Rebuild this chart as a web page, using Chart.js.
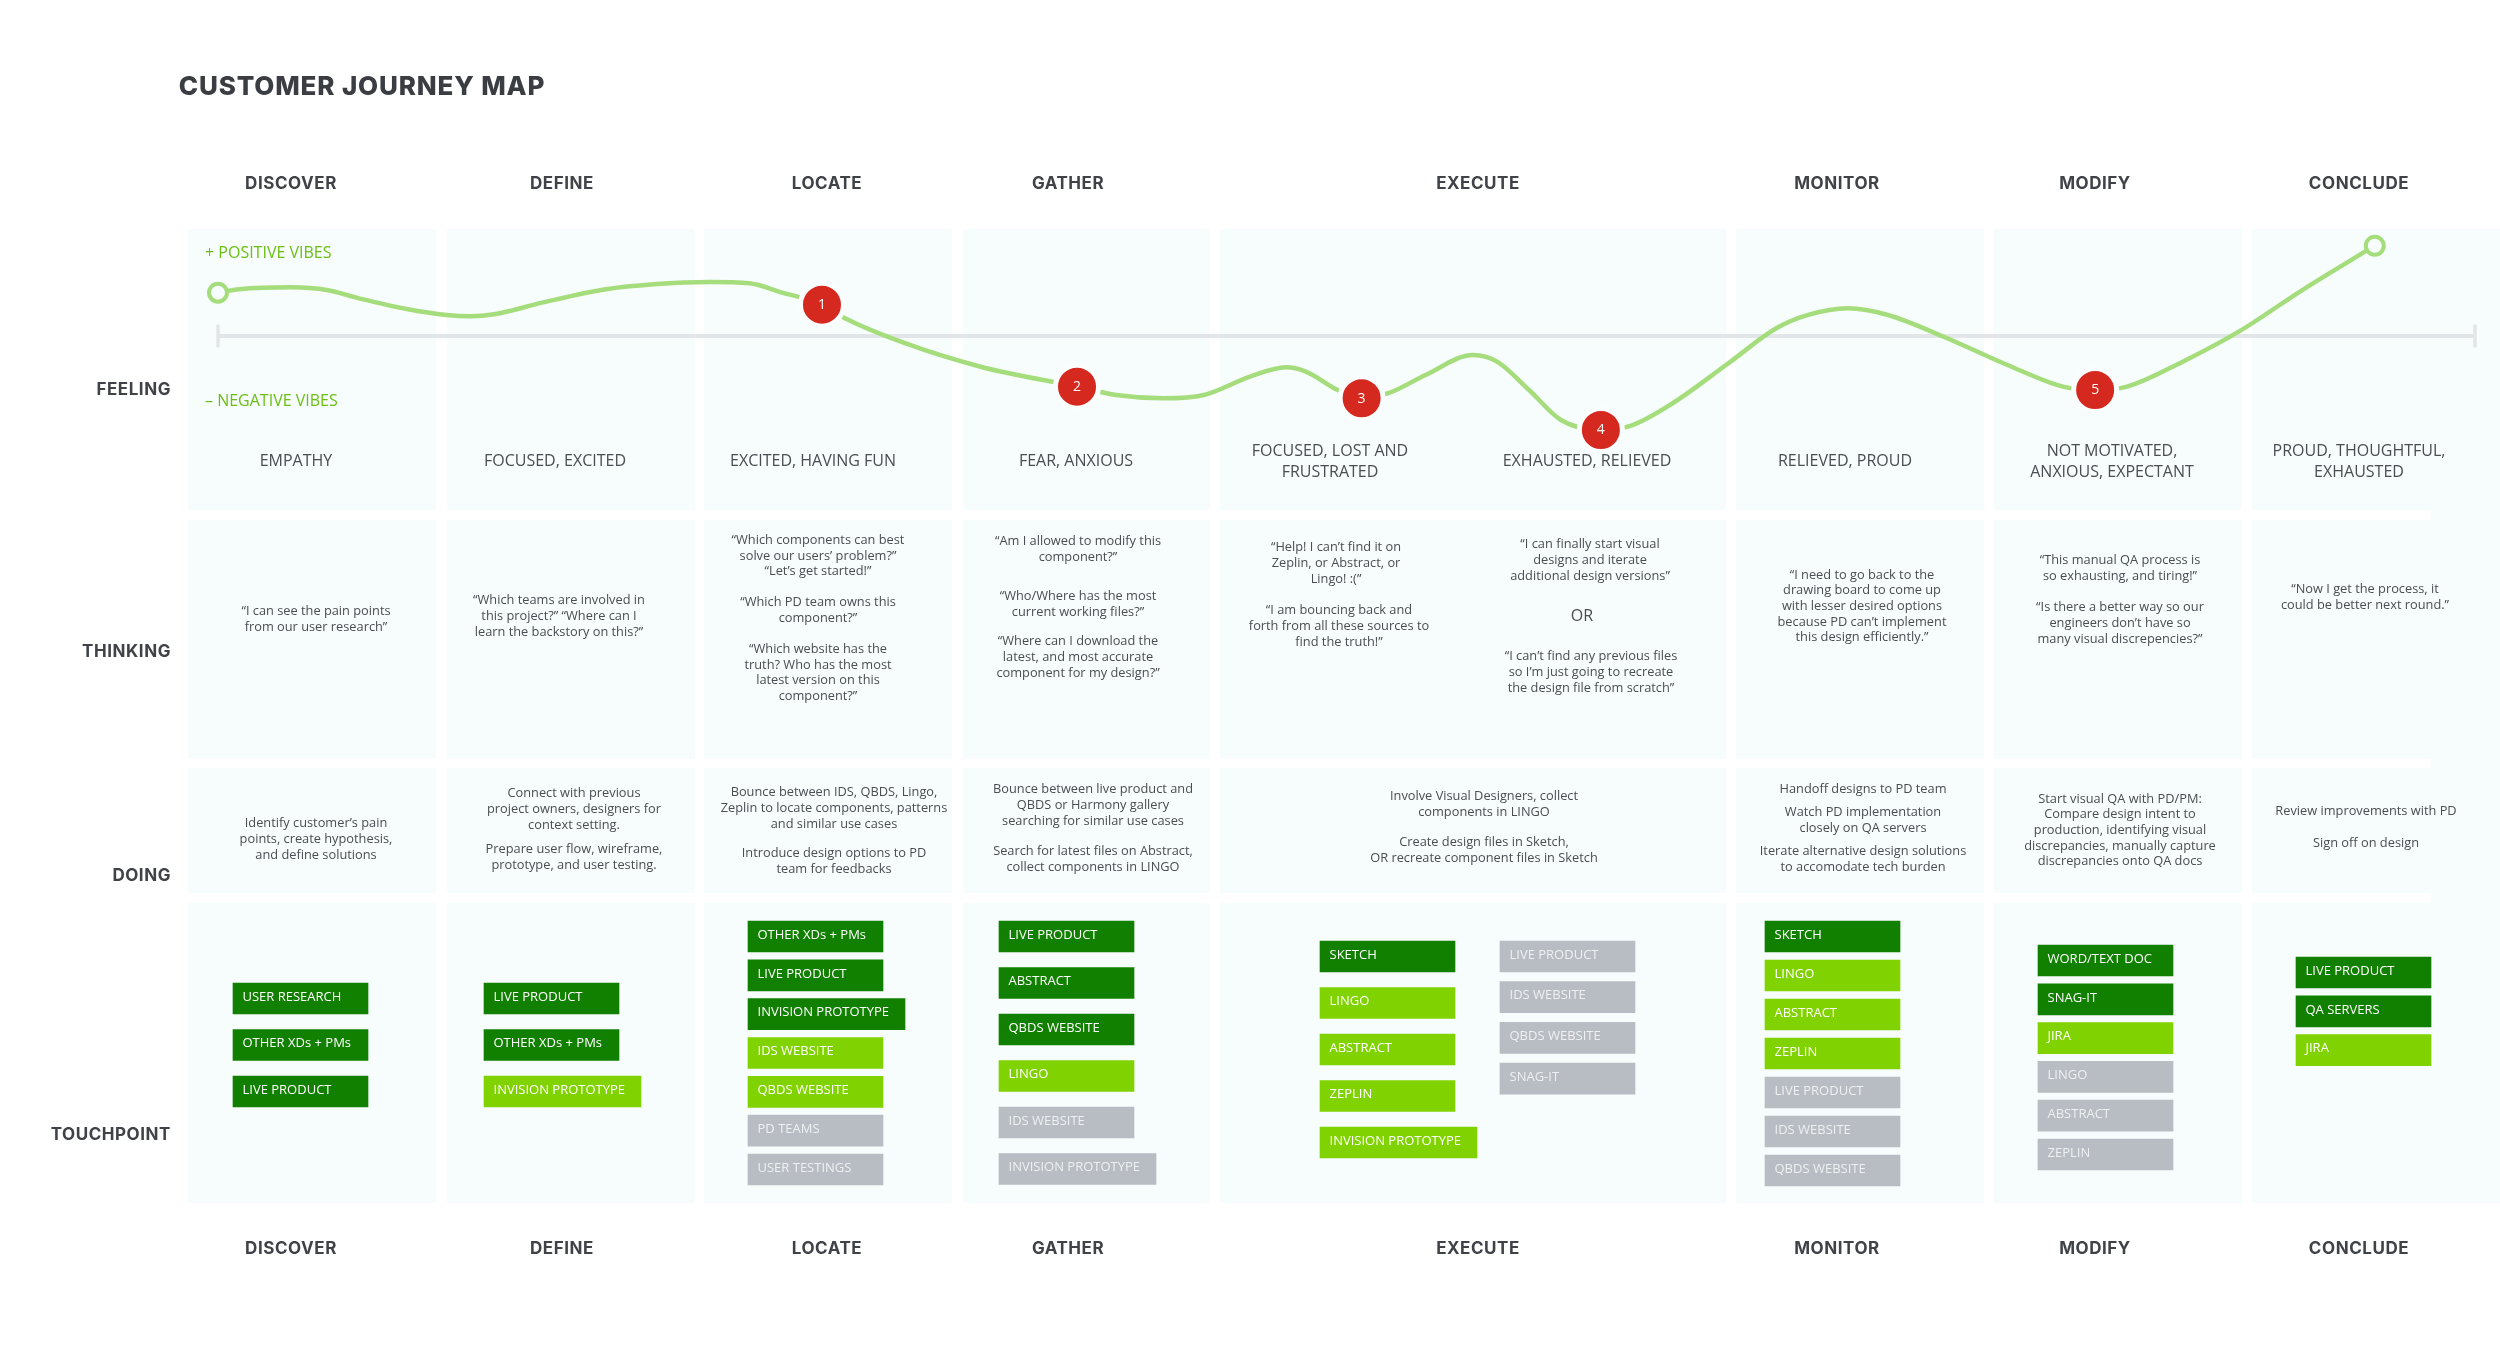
<!DOCTYPE html>
<html><head><meta charset="utf-8">
<script src="https://cdn.jsdelivr.net/npm/chart.js@4"></script>
<style>
html,body{margin:0;padding:0;background:#fff;width:2500px;height:1353px;overflow:hidden}
#stage{position:relative;width:2500px;height:1353px}
#stage div{position:absolute}
.t{white-space:pre;transform:translate(-50%,-50%);text-align:center;color:#4a4d52;font-family:"Open Sans",sans-serif}
canvas{position:absolute;left:0;top:0}
</style></head><body>
<div id="stage"><canvas id="c" width="2500" height="1353"></canvas></div>
<script>
/* ---------- DATA ---------- */
const title = "CUSTOMER JOURNEY MAP";
const stages = ["DISCOVER","DEFINE","LOCATE","GATHER","EXECUTE","MONITOR","MODIFY","CONCLUDE"];
const rowLabels = ["FEELING","THINKING","DOING","TOUCHPOINT"];
const vibeLabels = ["+ POSITIVE VIBES","– NEGATIVE VIBES"];
const feelingLabels = ["EMPATHY","FOCUSED, EXCITED","EXCITED, HAVING FUN","FEAR, ANXIOUS","FOCUSED, LOST AND\nFRUSTRATED","EXHAUSTED, RELIEVED","RELIEVED, PROUD","NOT MOTIVATED,\nANXIOUS, EXPECTANT","PROUD, THOUGHTFUL,\nEXHAUSTED"];
const thinkingTexts = [
 "“I can see the pain points\nfrom our user research”",
 "“Which teams are involved in\nthis project?” “Where can I\nlearn the backstory on this?”",
 "“Which components can best\nsolve our users’ problem?”\n“Let’s get started!”\n\n“Which PD team owns this\ncomponent?”\n\n“Which website has the\ntruth? Who has the most\nlatest version on this\ncomponent?”",
 "“Am I allowed to modify this\ncomponent?”","“Who/Where has the most\ncurrent working files?”","“Where can I download the\nlatest, and most accurate\ncomponent for my design?”",
 "“Help! I can’t find it on\nZeplin, or Abstract, or\nLingo! :(”","“I am bouncing back and\nforth from all these sources to\nfind the truth!”",
 "“I can finally start visual\ndesigns and iterate\nadditional design versions”","“I can’t find any previous files\nso I’m just going to recreate\nthe design file from scratch”",
 "“I need to go back to the\ndrawing board to come up\nwith lesser desired options\nbecause PD can’t implement\nthis design efficiently.”",
 "“This manual QA process is\nso exhausting, and tiring!”","“Is there a better way so our\nengineers don’t have so\nmany visual discrepencies?”",
 "“Now I get the process, it\ncould be better next round.”"];
const orLabel = "OR";
const doingTexts = [
 "Identify customer’s pain\npoints, create hypothesis,\nand define solutions",
 "Connect with previous\nproject owners, designers for\ncontext setting.","Prepare user flow, wireframe,\nprototype, and user testing.",
 "Bounce between IDS, QBDS, Lingo,\nZeplin to locate components, patterns\nand similar use cases","Introduce design options to PD\nteam for feedbacks",
 "Bounce between live product and\nQBDS or Harmony gallery\nsearching for similar use cases","Search for latest files on Abstract,\ncollect components in LINGO",
 "Involve Visual Designers, collect\ncomponents in LINGO","Create design files in Sketch,\nOR recreate component files in Sketch",
 "Handoff designs to PD team","Watch PD implementation\nclosely on QA servers","Iterate alternative design solutions\nto accomodate tech burden",
 "Start visual QA with PD/PM:\nCompare design intent to\nproduction, identifying visual\ndiscrepancies, manually capture\ndiscrepancies onto QA docs",
 "Review improvements with PD","Sign off on design"];
/* feeling curve: journey progress (0-100 along the neutral line) and feeling score */
const curveProgress = [0,0.94,3.23,4.82,6.24,8.36,10.12,11.18,12.24,14.36,17.19,19.3,21.78,23.55,24.96,26.76,27.78,30.25,33.79,38.06,39.79,41.91,43.68,45.73,47.32,48.2,49.61,50.67,51.91,53.5,55.61,56.67,58.09,59.5,61.27,62.68,64.45,66.92,69.04,70.45,72.22,73.99,76.46,79.28,81.75,83.17,84.58,87.05,89.53,92.35,95.56];
const curveFeeling = [48,51.7,53.9,50.9,41.7,29.9,23.3,21.8,24,36.9,51.7,57.2,59.8,58.4,48.4,34.7,19.6,-6.3,-34,-56.1,-65.3,-69,-65.3,-45,-34.7,-39.5,-59.8,-69,-62.8,-43.2,-21,-28.4,-59.8,-93,-104.1,-98.6,-74.5,-30.2,8.5,23.3,30.7,23.3,-0.8,-32.1,-56.1,-59.8,-56.1,-28.4,4.8,50.9,100];
const markerProgress = [26.76,38.06,50.67,61.27,83.17];
const markerFeeling = [34.7,-56.1,-69,-104.1,-59.8];
const markerLabels = ["1","2","3","4","5"];
const endProgress = [0,95.56];
const endFeeling = [48,100];
const neutralProgress = [0,100];
const neutralFeeling = [0,0];
const touchpointNames = [
 ["USER RESEARCH","OTHER XDs + PMs","LIVE PRODUCT"],
 ["LIVE PRODUCT","OTHER XDs + PMs","INVISION PROTOTYPE"],
 ["OTHER XDs + PMs","LIVE PRODUCT","INVISION PROTOTYPE","IDS WEBSITE","QBDS WEBSITE","PD TEAMS","USER TESTINGS"],
 ["LIVE PRODUCT","ABSTRACT","QBDS WEBSITE","LINGO","IDS WEBSITE","INVISION PROTOTYPE"],
 ["SKETCH","LINGO","ABSTRACT","ZEPLIN","INVISION PROTOTYPE"],
 ["LIVE PRODUCT","IDS WEBSITE","QBDS WEBSITE","SNAG-IT"],
 ["SKETCH","LINGO","ABSTRACT","ZEPLIN","LIVE PRODUCT","IDS WEBSITE","QBDS WEBSITE"],
 ["WORD/TEXT DOC","SNAG-IT","JIRA","LINGO","ABSTRACT","ZEPLIN"],
 ["LIVE PRODUCT","QA SERVERS","JIRA"]];
const touchpointKinds = [[0,0,0],[0,0,1],[0,0,0,1,1,2,2],[0,0,0,1,2,2],[0,1,1,1,1],[2,2,2,2],[0,1,1,1,2,2,2],[0,0,1,2,2,2],[0,0,1]];

/* ---------- LAYOUT ---------- */
const panelColumns = [[188,436],[446.5,695],[704,952],[962.5,1210],[1220,1726],[1736,1984],[1994,2242],[2251.5,2500]];
const panelRows = [[229,510],[519.5,758.7],[767.7,892.7],[902.7,1202.7]];
const headerCx = [291,562,827,1068,1478,1837,2095,2359];
const headerCy = [183,1248];
const rowLabelCy = [389,651,875,1134];
const feelingAnchors = [[296,460],[555,460],[813,460],[1076,460],[1330,460.5],[1587,460],[1845,460],[2112,460.5],[2359,460.5]];
const thinkingAnchors = [[316,618],[559,615],[818,617],[1078,548],[1078,603],[1078,656],[1336,562],[1339,625],[1590,559],[1591,671],[1862,605],[2120,567],[2120,622],[2365,596]];
const doingAnchors = [[316,838],[574,808],[574,856],[834,807],[834,860],[1093,804],[1093,858],[1484,803],[1484,849],[1863,788],[1863,819],[1863,858],[2120,829],[2366,810],[2366,842]];
const chipColumns = [[233,983,46.5],[484,983,46.5],[748,921,38.83],[999,921,46.5],[1320,941,46.5],[1500,941,40.7],[1765,921,39],[2038,945,38.8],[2296,957,38.8]];
const chipH = 31, chipW = 135, chipWideW = 157;
const neutralLeft = 218, neutralRight = 2475, neutralY = 336, fullFeelingPx = 90.3;
const kindColors = ["#118000","#80D300","#B8BCC3"];
const chipTextColors = ["#FFFFFF","#FFFFFF","#EEF0F2"];

/* ---------- PAGE TEXT & PANELS ---------- */
const stageEl = document.getElementById('stage');
const canvasEl = document.getElementById('c');
function box(l,t,r,b,c){const d=document.createElement('div');d.style.cssText=`left:${l}px;top:${t}px;width:${r-l}px;height:${b-t}px;background:${c}`;stageEl.insertBefore(d,canvasEl);}
const tint="#F7FCFC";
panelRows.forEach(r=>panelColumns.forEach(c=>box(c[0],r[0],c[1],r[1],tint)));
box(2431,510,2500,903,tint);
function text(str,cx,cy,css){
  const lh=css.lh, lines=str.split("\n");
  lines.forEach((ln,i)=>{ if(!ln) return;
    const d=document.createElement('div');d.className='t';d.textContent=ln;
    d.style.cssText=`left:${cx}px;top:${cy+(i-(lines.length-1)/2)*lh}px;font:${css.font};color:${css.color||'#4a4d52'};letter-spacing:${css.ls||0}px;`+(css.extra||'');
    stageEl.appendChild(d);
  });
}
const headFont='700 17px Inter,sans-serif';
text(title,362,85,{lh:0,font:'800 26px Inter,sans-serif',color:'#3a3d42',ls:0.85});
headerCy.forEach(y=>stages.forEach((s,i)=>text(s,headerCx[i],y,{lh:0,font:headFont,color:'#3f4247',ls:0.55})));
rowLabels.forEach((s,i)=>{const d=document.createElement('div');d.className='t';d.textContent=s;
  d.style.cssText=`left:171px;top:${rowLabelCy[i]}px;transform:translate(-100%,-50%);font:${headFont};color:#3f4247;letter-spacing:0.55px`;stageEl.appendChild(d);});
vibeLabels.forEach((s,i)=>{const d=document.createElement('div');d.className='t';d.textContent=s;
  d.style.cssText=`left:205px;top:${[252,400][i]}px;transform:translate(0,-50%);font:400 16px "Open Sans",sans-serif;color:#6BBF12`;stageEl.appendChild(d);});
feelingLabels.forEach((s,i)=>text(s,feelingAnchors[i][0],feelingAnchors[i][1],{lh:21.6,font:'400 16px "Open Sans",sans-serif',color:'#4a4d52'}));
thinkingTexts.forEach((s,i)=>text(s,thinkingAnchors[i][0],thinkingAnchors[i][1],{lh:15.55,font:'400 12.8px "Open Sans",sans-serif'}));
text(orLabel,1582,615,{lh:0,font:'400 16px "Open Sans",sans-serif'});
doingTexts.forEach((s,i)=>text(s,doingAnchors[i][0],doingAnchors[i][1],{lh:15.55,font:'400 12.8px "Open Sans",sans-serif'}));

/* ---------- CHART ---------- */
const pxPerProgress=(neutralRight-neutralLeft)/100, pxPerFeeling=fullFeelingPx/100;
const zip=(a,b)=>a.map((v,i)=>({x:v,y:b[i]}));
function chipBars(kind){
  const out=[];
  touchpointNames.forEach((names,g)=>names.forEach((n,i)=>{
    if(touchpointKinds[g][i]!==kind) return;
    const [l,t,step]=chipColumns[g];
    out.push({x:[l,l+(n.length>16?chipWideW:chipW)],y:t+i*step+chipH/2,name:n});
  }));
  return out;
}
const chipLabelPlugin={id:'labels',afterDatasetsDraw(ch){
  const c=ch.ctx;c.save();c.textBaseline='middle';
  ch.data.datasets.forEach((ds,di)=>{
    const meta=ch.getDatasetMeta(di);
    if(ds.chipKind!==undefined){
      c.font='400 13px "Open Sans",sans-serif';c.textAlign='left';c.fillStyle=chipTextColors[ds.chipKind];
      meta.data.forEach((el,i)=>c.fillText(ds.data[i].name,el.base+9.5,el.y-1.5));
    }
    if(ds.markerNumbers){
      c.font='400 14px "Open Sans",sans-serif';c.textAlign='center';c.fillStyle='#fff';
      meta.data.forEach((el,i)=>c.fillText(ds.markerNumbers[i],el.x,el.y+0.5));
    }
  });
  c.restore();
}};
const pageAxes={xAxisID:'xPage',yAxisID:'yPage'};
new Chart(canvasEl,{
  type:'line',
  data:{datasets:[
    {label:'Neutral',data:zip(neutralProgress,neutralFeeling),borderColor:'#E3E6E8',borderWidth:4,pointRadius:11.5,pointStyle:'line',pointRotation:90,pointBorderWidth:3.5,pointBorderColor:'#E3E6E8',order:5},
    {label:'Feeling',data:zip(curveProgress,curveFeeling),borderColor:'#A5DD7C',borderWidth:4.5,cubicInterpolationMode:'monotone',pointRadius:0,order:4},
    {label:'Ends',data:zip(endProgress,endFeeling),showLine:false,pointRadius:9,pointBorderWidth:4,pointBorderColor:'#A5DD7C',pointBackgroundColor:tint,order:3},
    {label:'Low points',data:zip(markerProgress,markerFeeling),showLine:false,pointRadius:21.5,pointBorderWidth:5,pointBorderColor:'#F9FDFD',pointBackgroundColor:'#D5281E',markerNumbers:markerLabels,order:2},
    ...[0,1,2].map(k=>({type:'bar',label:'Touchpoints '+k,indexAxis:'y',grouped:false,barThickness:chipH,backgroundColor:kindColors[k],data:chipBars(k),chipKind:k,order:1,...pageAxes}))
  ]},
  options:{
    responsive:false,animation:false,devicePixelRatio:1,
    layout:{padding:0,autoPadding:false},
    plugins:{legend:{display:false},tooltip:{enabled:false},title:{display:false}},
    clip:false,
    scales:{
      x:{type:'linear',display:false,min:(0-neutralLeft)/pxPerProgress,max:(2500-neutralLeft)/pxPerProgress},
      y:{type:'linear',display:false,min:(neutralY-1353)/pxPerFeeling,max:neutralY/pxPerFeeling},
      xPage:{axis:'x',type:'linear',display:false,min:0,max:2500,offset:false},
      yPage:{axis:'y',type:'linear',display:false,min:0,max:1353,reverse:true,offset:false}
    }
  },
  plugins:[chipLabelPlugin]
});
</script></body></html>
